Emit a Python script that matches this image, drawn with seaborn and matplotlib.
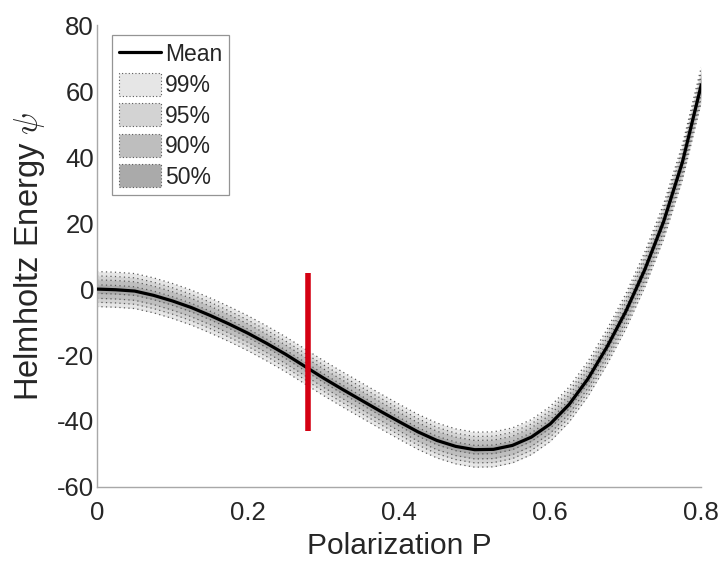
"""Helmholtz energy vs polarization with credible bands."""

import numpy as np
import pandas as pd
import matplotlib
matplotlib.use("Agg")
import matplotlib.pyplot as plt
from matplotlib.lines import Line2D
from matplotlib.patches import Patch
import seaborn as sns

# mean curve
polarization = [0.000, 0.025, 0.050, 0.075, 0.100, 0.125, 0.150, 0.175,
                0.200, 0.225, 0.250, 0.275, 0.300, 0.325, 0.350, 0.375,
                0.400, 0.425, 0.450, 0.475, 0.500, 0.525, 0.550, 0.575,
                0.600, 0.625, 0.650, 0.675, 0.700, 0.725, 0.750, 0.775,
                0.800]
psi_mean = [0.0, -0.2, -0.6, -1.9, -3.6, -5.6, -8.0, -10.6,
            -13.4, -16.5, -19.8, -23.4, -27.0, -30.4, -33.7, -37.0,
            -40.2, -43.3, -45.9, -47.7, -48.7, -48.6, -47.4, -44.9,
            -40.9, -35.0, -27.2, -17.6, -6.8, 5.8, 20.4, 38.5,
            62.0]

# band half widths (in psi units) for each credible level
levels = ["99%", "95%", "90%", "50%"]
half_widths = [5.3, 4.0, 2.8, 1.3]
band_colors = ["#e6e6e6", "#d3d3d3", "#bebebe", "#aaaaaa"]

# marked polarization (red bar)
marker_p = 0.28
marker_psi = [-43.0, 4.8]

df = pd.DataFrame({"P": polarization, "psi": psi_mean})

sns.set_theme(style="white")
plt.rcParams["font.family"] = ["Liberation Sans", "DejaVu Sans"]
plt.rcParams["mathtext.fontset"] = "cm"
plt.rcParams["axes.unicode_minus"] = False

fig, ax = plt.subplots(figsize=(7.23, 5.61), dpi=100)
fig.subplots_adjust(left=0.134, right=0.970, top=0.955, bottom=0.132)

p = df["P"].to_numpy()
m = df["psi"].to_numpy()
for hw, col in zip(half_widths, band_colors):
    ax.fill_between(p, m - hw, m + hw, color=col, lw=0, zorder=1)
for hw in half_widths:
    for sgn in (-1, 1):
        ax.plot(p, m + sgn * hw, color="#5a5a5a", lw=0.9,
                ls=(0, (1, 2.6)), zorder=2)

sns.lineplot(data=df, x="P", y="psi", color="black", lw=2.3, ax=ax,
             zorder=3)

ax.plot([marker_p, marker_p], marker_psi, color="#d40012", lw=4.0,
        solid_capstyle="butt", zorder=4)

ax.set_xlim(0, 0.8)
ax.set_ylim(-60, 80)
ax.set_xticks([0, 0.2, 0.4, 0.6, 0.8])
ax.set_xticklabels(["0", "0.2", "0.4", "0.6", "0.8"])
ax.set_yticks(range(-60, 81, 20))
ax.set_xlabel("Polarization P", fontsize=21.5, color="#262626",
              va="baseline")
ax.xaxis.set_label_coords(0.5, -0.145)
ax.set_ylabel(r"Helmholtz Energy $\psi$", fontsize=23.5, color="#262626")
ax.yaxis.set_label_coords(-0.083, 0.5)

for side in ("top", "right"):
    ax.spines[side].set_visible(False)
for side in ("left", "bottom"):
    ax.spines[side].set_color("#a8a8a8")
    ax.spines[side].set_linewidth(1.0)
ax.tick_params(direction="in", length=5, width=0.8, color="#606060",
               labelsize=18.5, labelcolor="#262626")
ax.tick_params(axis="x", pad=10)
ax.tick_params(axis="y", pad=2)

handles = [Line2D([], [], color="black", lw=2.3, label="Mean")]
for lab, col in zip(levels, band_colors):
    handles.append(Patch(facecolor=col, edgecolor="#5a5a5a", lw=0.8,
                         ls=(0, (1, 2)), label=lab))
leg = ax.legend(handles=handles, loc="upper left",
                bbox_to_anchor=(0.025, 0.978), fontsize=16.5,
                frameon=True, fancybox=False, handlelength=1.85,
                handleheight=1.15, handletextpad=0.15, labelspacing=0.28,
                borderpad=0.3, borderaxespad=0)
leg.get_frame().set_edgecolor("#7a7a7a")
leg.get_frame().set_linewidth(0.9)

fig.savefig("out.png", dpi=100)
